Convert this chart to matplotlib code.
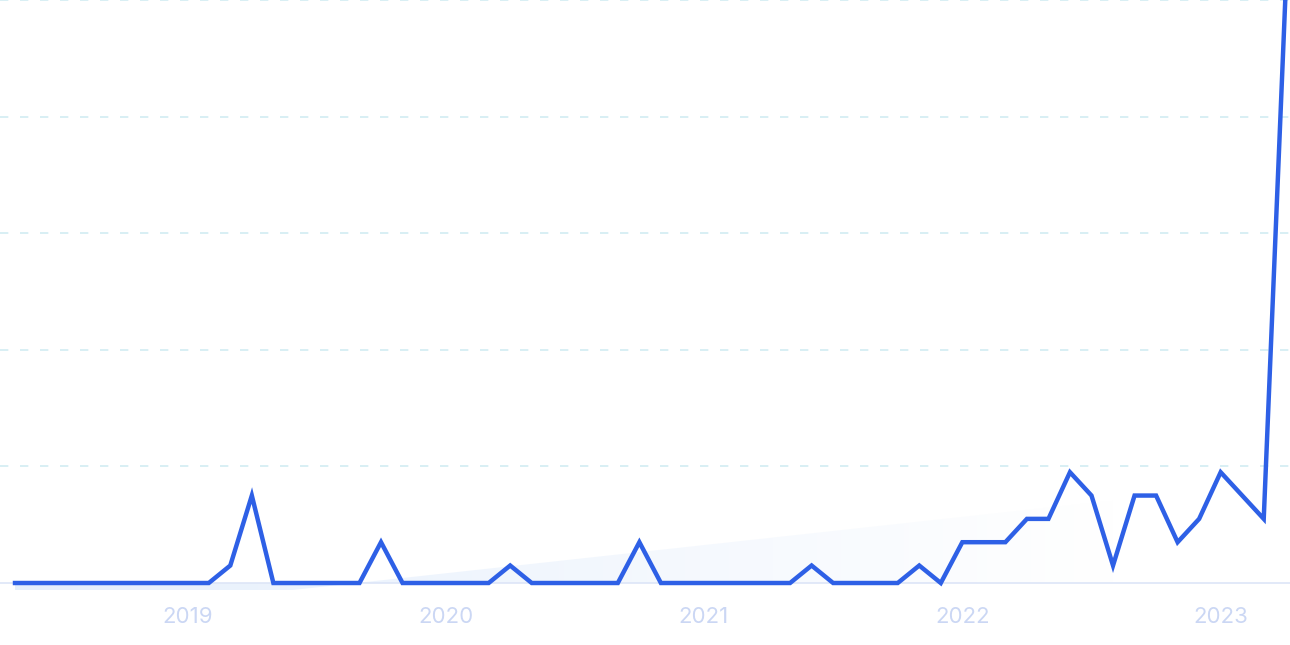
import numpy as np
import matplotlib
matplotlib.use('Agg')
import matplotlib.pyplot as plt

# monthly values, May 2018 .. Apr 2023 (index 0..59)
months = list(range(60))
values = [0, 0, 0, 0, 0, 0, 0, 0,          # May-Dec 2018
          0, 0, 3, 15, 0, 0, 0, 0, 0, 7, 0, 0,   # 2019
          0, 0, 0, 3, 0, 0, 0, 0, 0, 7, 0, 0,    # 2020
          0, 0, 0, 0, 0, 3, 0, 0, 0, 0, 3, 0,    # 2021
          7, 7, 7, 11, 11, 19, 15, 3, 15, 15, 7, 11,  # 2022
          19, 15, 11, 100]                      # Jan-Apr 2023
year_ticks = [8, 20, 32, 44, 56]
year_labels = ['2019', '2020', '2021', '2022', '2023']
trend_ends = [-6.4, 17.4]
grid_levels = [20, 40, 60, 80, 100]

line_color = '#2e60e6'

fig = plt.figure(figsize=(12.9, 6.45), dpi=100)
ax = fig.add_axes([0, 55 / 645, 1, 590 / 645])
ax.set_xlim(-0.697, 59.22)
ax.set_ylim(-1.2, 100)

# faint trend area with a fading gradient
xs = np.array([months[0], months[-1]])
trend = np.array(trend_ends)
poly = ax.fill_between(xs, trend, 0, color='none', lw=0)
grad = np.zeros((2, 256, 4))
grad[..., 0] = 0.89
grad[..., 1] = 0.93
grad[..., 2] = 0.99
grad[..., 3] = np.clip(1 - np.linspace(0, 59.9, 256) / 52, 0, 1) * 0.9
img = ax.imshow(grad, extent=[-0.697, 59.22, -1.2, 100], aspect='auto',
                origin='lower', zorder=1, interpolation='bilinear')
img.set_clip_path(poly.get_paths()[0], transform=ax.transData)

for g in grid_levels:
    ax.axhline(g, color='#d2ecf2', lw=1.2, linestyle=(0, (5, 7)), zorder=0)
ax.axhline(0, color='#dde5f7', lw=1.2, zorder=2)

ax.plot(months, values, color=line_color, lw=3.2, solid_joinstyle='miter', zorder=3)

for spine in ax.spines.values():
    spine.set_visible(False)
ax.set_yticks([])
ax.set_xticks(year_ticks)
ax.set_xticklabels(year_labels, fontfamily='Inter', fontsize=16, color='#cbd7f4')
ax.tick_params(axis='x', length=0, pad=12)

fig.savefig('out.png', dpi=100)
